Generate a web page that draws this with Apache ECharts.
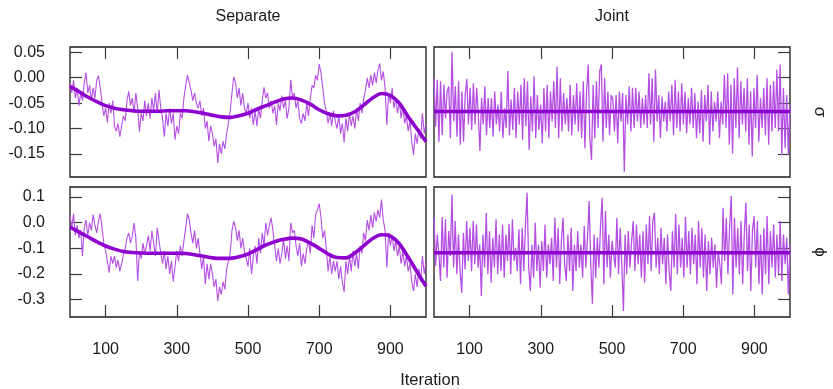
<!DOCTYPE html>
<html><head><meta charset="utf-8">
<script src="https://cdn.jsdelivr.net/npm/echarts@6/dist/echarts.min.js"></script>
<style>html,body{margin:0;padding:0;background:#fff}#c{width:833px;height:389px}</style>
</head><body><div id="c"></div>
<script>
const columnTitles = ['Separate', 'Joint'];
const rowLabels = ['σ', 'ϕ'];
const xTitle = 'Iteration';
const xTicks = [100, 300, 500, 700, 900];
const sigmaTicks = [0.05, 0, -0.05, -0.1, -0.15];
const phiTicks = [0.1, 0, -0.1, -0.2, -0.3];

// Separate chains, sampled every 5 iterations
const sepSigma = [
-0.010,-0.030,-0.005,-0.040,-0.020,-0.055,-0.030,-0.045,-0.010,0.010,
-0.030,-0.015,-0.045,-0.020,-0.040,-0.005,0.004,-0.020,-0.050,-0.075,
-0.060,-0.088,-0.050,-0.070,-0.045,-0.095,-0.105,-0.090,-0.116,-0.095,
-0.075,-0.085,-0.045,-0.027,-0.055,-0.040,-0.070,-0.030,-0.060,-0.106,
-0.070,-0.085,-0.045,-0.075,-0.050,-0.080,-0.040,-0.065,-0.030,-0.070,
-0.024,-0.060,-0.080,-0.116,-0.070,-0.095,-0.060,-0.090,-0.070,-0.122,
-0.095,-0.110,-0.070,-0.080,-0.040,-0.015,0.005,-0.010,-0.025,-0.045,
-0.030,-0.050,-0.060,-0.045,-0.075,-0.060,-0.100,-0.085,-0.125,-0.095,
-0.110,-0.135,-0.120,-0.168,-0.130,-0.150,-0.125,-0.140,-0.110,-0.090,
-0.065,-0.030,0.002,-0.010,-0.040,-0.020,-0.055,-0.030,-0.060,-0.070,
-0.050,-0.080,-0.060,-0.093,-0.065,-0.095,-0.060,-0.080,-0.045,-0.019,
-0.040,-0.030,-0.060,-0.045,-0.070,-0.055,-0.093,-0.050,-0.065,-0.035,
-0.060,-0.045,-0.080,-0.060,-0.004,-0.040,-0.030,-0.060,-0.045,-0.080,
-0.090,-0.070,-0.085,-0.050,-0.075,-0.040,-0.015,-0.020,0.005,-0.005,
0.027,0.010,-0.020,-0.050,-0.065,-0.090,-0.070,-0.095,-0.065,-0.085,
-0.100,-0.075,-0.110,-0.090,-0.127,-0.080,-0.105,-0.070,-0.095,-0.075,
-0.100,-0.060,-0.085,-0.050,-0.070,-0.040,-0.025,0.000,-0.020,0.005,
-0.015,0.010,-0.010,0.015,0.028,-0.005,0.012,-0.020,-0.093,-0.030,
-0.050,-0.020,-0.060,-0.040,-0.070,-0.045,-0.080,-0.055,-0.090,-0.075,
-0.105,-0.085,-0.125,-0.152,-0.110,-0.130,-0.100,-0.120,-0.070,-0.110,
-0.090];
const sepPhi = [
0.030,-0.020,0.035,-0.050,-0.010,-0.060,-0.030,-0.130,-0.020,0.010,
-0.050,0.000,-0.030,0.032,-0.010,-0.040,0.005,0.035,-0.020,-0.080,
-0.110,-0.150,-0.195,-0.130,-0.160,-0.130,-0.175,-0.145,-0.190,-0.160,
-0.125,-0.100,-0.060,-0.040,-0.080,-0.050,-0.002,-0.060,-0.227,-0.110,
-0.140,-0.080,-0.120,-0.090,-0.050,-0.110,-0.032,-0.080,-0.130,-0.020,
-0.070,-0.120,-0.160,-0.110,-0.180,-0.130,-0.200,-0.150,-0.230,-0.170,
-0.110,-0.150,-0.090,-0.130,-0.070,-0.020,0.035,0.010,-0.040,-0.080,
-0.030,-0.100,-0.060,-0.120,-0.180,-0.130,-0.240,-0.160,-0.220,-0.160,
-0.200,-0.250,-0.220,-0.305,-0.250,-0.280,-0.230,-0.260,-0.180,-0.150,
-0.120,-0.030,0.005,-0.020,-0.070,-0.030,-0.100,-0.060,-0.110,-0.140,
-0.170,-0.100,-0.200,-0.130,-0.090,-0.160,-0.060,-0.120,-0.040,-0.090,
0.000,-0.050,-0.010,0.019,-0.030,-0.090,-0.150,-0.100,-0.160,-0.120,
-0.060,-0.140,-0.090,-0.150,0.000,-0.040,-0.030,-0.090,-0.130,-0.080,
-0.170,-0.120,-0.160,-0.100,-0.070,-0.120,-0.010,-0.060,0.030,0.050,
0.074,0.020,-0.060,-0.030,-0.100,-0.190,-0.130,-0.200,-0.150,-0.190,
-0.150,-0.220,-0.170,-0.230,-0.270,-0.150,-0.200,-0.130,-0.190,-0.110,
-0.170,-0.120,-0.180,-0.090,-0.120,-0.040,-0.070,0.010,-0.030,0.030,
-0.020,0.040,0.005,0.050,0.020,0.090,0.010,-0.030,-0.175,-0.040,
-0.090,-0.050,-0.110,-0.070,-0.130,-0.090,-0.160,-0.110,-0.170,-0.130,
-0.190,-0.160,-0.230,-0.266,-0.200,-0.250,-0.180,-0.230,-0.130,-0.200,
-0.150];
// Smoothed trend of separate chains, every 25 iterations
const sepSigmaSmooth = [
-0.017,-0.027,-0.038,-0.047,-0.055,-0.060,-0.063,-0.065,-0.066,-0.066,
-0.066,-0.065,-0.065,-0.065,-0.067,-0.070,-0.074,-0.077,-0.078,-0.075,
-0.070,-0.062,-0.055,-0.048,-0.042,-0.040,-0.044,-0.052,-0.063,-0.071,
-0.075,-0.074,-0.067,-0.054,-0.040,-0.031,-0.035,-0.050,-0.077,-0.101,
-0.126];
const sepPhiSmooth = [
-0.017,-0.036,-0.055,-0.074,-0.091,-0.103,-0.112,-0.116,-0.118,-0.119,
-0.119,-0.119,-0.119,-0.120,-0.125,-0.131,-0.137,-0.139,-0.139,-0.133,
-0.122,-0.105,-0.087,-0.074,-0.065,-0.060,-0.064,-0.080,-0.100,-0.122,
-0.136,-0.137,-0.118,-0.090,-0.062,-0.047,-0.052,-0.082,-0.135,-0.192,
-0.248];

// Joint chains, evenly spaced over 0..1000
const jointSigma = [
-0.001,-0.096,-0.004,-0.126,-0.007,-0.113,-0.014,-0.080,-0.027,-0.017,
-0.119,0.051,-0.086,-0.017,-0.116,-0.007,-0.132,-0.027,-0.126,-0.034,
-0.002,-0.092,-0.020,-0.103,-0.011,-0.092,-0.020,-0.073,-0.144,-0.040,
-0.092,-0.017,-0.113,-0.040,-0.099,-0.040,-0.116,-0.027,-0.092,-0.053,
-0.106,-0.027,-0.119,-0.060,-0.099,0.013,-0.113,-0.043,-0.103,-0.020,
-0.119,-0.027,-0.092,-0.014,-0.122,-0.001,-0.096,-0.007,-0.142,-0.037,
-0.106,0.003,-0.119,-0.034,-0.103,-0.053,-0.129,-0.020,-0.106,-0.014,
-0.119,-0.027,-0.086,-0.007,-0.099,0.022,-0.119,-0.001,-0.106,-0.030,
-0.092,-0.040,-0.106,-0.014,-0.113,-0.034,-0.092,-0.011,-0.106,-0.027,
-0.119,-0.007,-0.139,-0.027,0.026,-0.119,-0.162,-0.014,-0.119,-0.007,
-0.099,0.013,0.026,-0.126,-0.001,-0.099,-0.027,-0.113,-0.034,
-0.043,-0.106,-0.034,-0.129,-0.027,-0.086,-0.030,-0.185,-0.034,-0.092,
-0.017,-0.106,-0.020,-0.099,-0.020,-0.086,-0.027,-0.099,-0.040,-0.092,
-0.034,-0.099,0.009,-0.092,-0.001,-0.126,0.016,-0.086,-0.034,-0.119,
-0.037,-0.086,-0.047,-0.106,-0.027,-0.086,-0.014,-0.113,-0.004,-0.099,
-0.027,-0.106,-0.011,-0.092,-0.027,-0.109,-0.040,-0.092,-0.020,-0.099,
-0.030,-0.119,-0.047,-0.109,-0.024,-0.126,-0.034,-0.086,-0.014,-0.132,
-0.027,-0.106,-0.047,-0.086,-0.027,-0.119,-0.047,-0.092,0.006,-0.099,
0.009,-0.132,-0.014,-0.149,-0.001,-0.099,0.020,-0.119,-0.007,-0.092,
-0.020,-0.106,-0.001,-0.132,-0.027,-0.155,-0.020,-0.099,0.006,-0.126,
-0.040,-0.099,-0.020,-0.113,-0.001,-0.132,-0.014,-0.106,-0.007,-0.099,
0.016,-0.106,0.026,-0.152,-0.020,-0.139,-0.034,-0.152,-0.053];
const jointPhi = [
0.019,-0.169,-0.046,-0.124,-0.227,0.022,-0.175,0.013,-0.214,-0.033,
-0.130,0.110,-0.175,0.006,-0.201,-0.046,-0.188,-0.273,-0.039,-0.182,
0.006,-0.149,-0.020,-0.188,0.006,-0.162,-0.007,-0.175,-0.085,-0.286,
-0.046,-0.175,0.039,-0.201,-0.033,-0.234,-0.059,-0.175,0.013,-0.201,
-0.046,-0.188,-0.007,-0.214,-0.046,-0.149,-0.004,-0.201,0.013,-0.149,
-0.098,-0.188,-0.026,-0.240,-0.020,-0.188,-0.013,0.117,-0.175,-0.266,
-0.085,-0.214,0.000,-0.188,-0.085,-0.253,-0.072,-0.188,-0.007,-0.214,
-0.085,-0.162,-0.059,-0.227,0.019,-0.175,-0.020,-0.240,-0.072,0.019,
-0.162,-0.227,-0.046,-0.188,-0.020,-0.266,-0.085,-0.188,-0.033,-0.175,
-0.085,-0.214,-0.013,-0.175,-0.059,0.084,-0.162,-0.316,-0.046,-0.214,
-0.059,-0.175,-0.007,0.097,-0.240,0.045,-0.175,-0.046,-0.214,-0.072,
-0.072,-0.175,0.019,-0.201,-0.020,-0.162,-0.344,-0.046,-0.201,-0.033,
-0.175,-0.072,0.006,-0.188,-0.007,-0.162,-0.046,-0.214,-0.033,-0.234,
-0.007,-0.162,0.026,-0.188,0.006,0.039,-0.175,-0.059,-0.201,-0.020,
-0.162,-0.059,-0.240,-0.046,-0.188,-0.266,-0.033,-0.175,0.035,-0.201,
-0.007,-0.175,-0.059,-0.214,0.022,-0.175,-0.033,-0.201,-0.020,-0.162,
-0.046,-0.240,0.006,-0.175,-0.020,-0.214,-0.046,-0.266,-0.072,-0.201,
-0.059,-0.175,-0.085,-0.253,-0.111,-0.162,-0.240,0.058,-0.149,0.019,
-0.201,-0.020,0.104,-0.280,0.019,-0.175,-0.020,-0.201,0.006,-0.240,
-0.046,0.078,-0.188,-0.007,-0.266,-0.033,0.026,-0.175,0.006,-0.240,
-0.046,-0.280,-0.020,-0.201,0.026,-0.240,-0.033,-0.175,-0.007,-0.214,
-0.046,-0.201,0.006,-0.227,-0.046,-0.162,-0.059,-0.280,-0.085];
const jointSigmaMean = -0.0665;
const jointPhiMean = -0.117;

const FONT = '"Liberation Sans", Arial, Helvetica, sans-serif';
const THIN = '#b54fe4';
const THICK = '#8e00cf';
const TEXT = '#1a1a1a';

function pairs(arr, lastIter) {
  const step = lastIter / (arr.length - 1);
  return arr.map((v, i) => [i * step, v]);
}

const grids = [
  {left: 70, top: 47, width: 356, height: 130},
  {left: 434, top: 47, width: 356, height: 130},
  {left: 70, top: 187, width: 356, height: 130},
  {left: 434, top: 187, width: 356, height: 130}
].map(g => Object.assign(g, {show: true, borderColor: '#1a1a1a', borderWidth: 1.3, backgroundColor: '#fff'}));

const tickStyle = {color: '#3a3a3a', width: 1.2};
function xAx(gi, top) {
  return {
    type: 'value', gridIndex: gi, min: 0, max: 1000, position: top ? 'top' : 'bottom',
    axisLine: {show: false, onZero: false}, splitLine: {show: false},
    axisTick: {show: true, inside: true, length: 12, customValues: xTicks, lineStyle: tickStyle},
    axisLabel: {show: !top, customValues: xTicks, margin: 25, fontSize: 16, color: TEXT, fontFamily: FONT}
  };
}
function yAx(gi, isSigma, left) {
  const ticks = isSigma ? sigmaTicks : phiTicks;
  return {
    type: 'value', gridIndex: gi,
    min: isSigma ? -0.1954 : -0.3675, max: isSigma ? 0.0605 : 0.139,
    position: left ? 'left' : 'right',
    axisLine: {show: false, onZero: false}, splitLine: {show: false},
    axisTick: {show: true, inside: true, length: 12, customValues: ticks, lineStyle: tickStyle},
    axisLabel: {show: left, customValues: ticks, margin: 25, fontSize: 16, color: TEXT, fontFamily: FONT,
      formatter: v => v.toFixed(isSigma ? 2 : 1)}
  };
}

function thin(idx, data, w) {
  return {type: 'line', xAxisIndex: idx, yAxisIndex: idx, data, symbol: 'none', showSymbol: false,
    lineStyle: {width: w, color: THIN}, itemStyle: {color: THIN}, animation: false, z: 2, silent: true};
}
function thick(idx, data, smooth) {
  return {type: 'line', xAxisIndex: idx, yAxisIndex: idx, data, symbol: 'none', showSymbol: false,
    smooth: smooth ? 0.3 : false,
    lineStyle: {width: 3.6, color: THICK}, itemStyle: {color: THICK}, animation: false, z: 3, silent: true};
}

const option = {
  animation: false,
  backgroundColor: '#fff',
  grid: grids,
  xAxis: [xAx(0, true), xAx(1, true), xAx(2, false), xAx(3, false)],
  yAxis: [yAx(0, true, true), yAx(1, true, false), yAx(2, false, true), yAx(3, false, false)],
  series: [
    thin(0, pairs(sepSigma, 1000), 1.1), thick(0, pairs(sepSigmaSmooth, 1000), true),
    thin(1, pairs(jointSigma, 1000), 1.3), thick(1, [[0, jointSigmaMean], [1000, jointSigmaMean]], false),
    thin(2, pairs(sepPhi, 1000), 1.1), thick(2, pairs(sepPhiSmooth, 1000), true),
    thin(3, pairs(jointPhi, 1000), 1.3), thick(3, [[0, jointPhiMean], [1000, jointPhiMean]], false)
  ],
  graphic: [
    {type: 'text', x: 248, y: 17, style: {text: columnTitles[0], align: 'center', verticalAlign: 'middle', textAlign: 'center', textVerticalAlign: 'middle', fontSize: 16, fontFamily: FONT, fill: TEXT}},
    {type: 'text', x: 612, y: 17, style: {text: columnTitles[1], align: 'center', verticalAlign: 'middle', textAlign: 'center', textVerticalAlign: 'middle', fontSize: 16, fontFamily: FONT, fill: TEXT}},
    {type: 'text', x: 430, y: 380, style: {text: xTitle, align: 'center', verticalAlign: 'middle', textAlign: 'center', textVerticalAlign: 'middle', fontSize: 16.5, fontFamily: FONT, fill: TEXT}},
    {type: 'text', x: 820, y: 112, rotation: -Math.PI / 2, style: {text: rowLabels[0], align: 'center', verticalAlign: 'middle', textAlign: 'center', textVerticalAlign: 'middle', fontSize: 17, fontFamily: FONT, fill: TEXT}},
    {type: 'text', x: 820, y: 252, rotation: -Math.PI / 2, style: {text: rowLabels[1], align: 'center', verticalAlign: 'middle', textAlign: 'center', textVerticalAlign: 'middle', fontSize: 17, fontFamily: FONT, fill: TEXT}}
  ]
};

const chart = echarts.init(document.getElementById('c'), null, {renderer: 'canvas', width: 833, height: 389});
chart.setOption(option);
</script>
</body></html>
